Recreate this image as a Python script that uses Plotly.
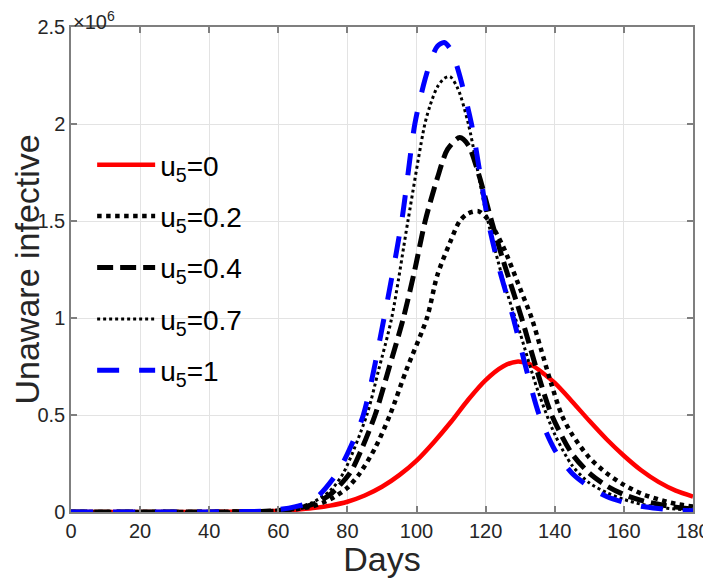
import plotly.graph_objects as go

# ---- data (values in units of 10^6) ----
labels = ["u<sub>5</sub>=0", "u<sub>5</sub>=0.2", "u<sub>5</sub>=0.4", "u<sub>5</sub>=0.7", "u<sub>5</sub>=1"]

days_u0 = [0, 10, 20, 30, 40, 45, 50, 55, 60, 65, 70, 75, 80, 85, 90, 95, 100, 105, 110, 115, 120, 125, 129, 133, 137, 140, 145, 150, 155, 160, 165, 170, 175, 180]
vals_u0 = [0, 0, 0, 0, 0.0005, 0.001, 0.002, 0.004, 0.007, 0.012, 0.02, 0.033, 0.053, 0.085, 0.13, 0.19, 0.265, 0.36, 0.465, 0.58, 0.68, 0.75, 0.775, 0.76, 0.71, 0.665, 0.57, 0.47, 0.375, 0.29, 0.215, 0.155, 0.11, 0.08]

days_u02 = [0, 10, 20, 30, 40, 50, 55, 60, 65, 70, 75, 80, 83.6, 88, 92.3, 97, 103, 106, 109.7, 112.5, 115, 118, 121, 125, 130, 133.3, 136, 139, 142, 145, 150, 155, 160, 165, 170, 175, 180]
vals_u02 = [0, 0, 0, 0, 0.0005, 0.001, 0.002, 0.006, 0.014, 0.03, 0.065, 0.125, 0.2, 0.33, 0.5, 0.73, 1.0, 1.22, 1.39, 1.5, 1.54, 1.55, 1.5, 1.37, 1.15, 1.0, 0.84, 0.66, 0.5, 0.4, 0.28, 0.2, 0.14, 0.095, 0.065, 0.042, 0.028]

days_u04 = [0, 10, 20, 30, 40, 50, 55, 60, 65, 70, 75, 80.7, 84, 88, 92, 96.2, 99.5, 102.5, 106, 109, 112.5, 115, 118, 121.7, 125, 130.4, 135, 139.1, 145, 150, 155, 160, 165, 170, 175, 180]
vals_u04 = [0, 0, 0, 0, 0.0005, 0.001, 0.003, 0.008, 0.018, 0.04, 0.09, 0.2, 0.32, 0.5, 0.74, 1.0, 1.25, 1.5, 1.72, 1.87, 1.93, 1.89, 1.74, 1.5, 1.3, 1.0, 0.72, 0.5, 0.3, 0.2, 0.135, 0.09, 0.06, 0.04, 0.025, 0.015]

days_u07 = [0, 10, 20, 30, 40, 50, 55, 60, 65, 70, 75, 78.8, 85.6, 89, 92.8, 97.5, 102.4, 104, 106, 108, 109.7, 112, 115, 120, 125, 130, 135, 140, 145, 150, 155, 160, 165, 170, 175, 180]
vals_u07 = [0, 0, 0, 0, 0.0005, 0.002, 0.004, 0.01, 0.022, 0.05, 0.11, 0.2, 0.5, 0.73, 1.0, 1.5, 2.0, 2.1, 2.19, 2.235, 2.244, 2.18, 2.0, 1.55, 1.2, 0.92, 0.63, 0.4, 0.24, 0.15, 0.1, 0.065, 0.04, 0.025, 0.015, 0.01]

days_u1 = [0, 10, 20, 30, 40, 50, 55, 60, 65, 68.7, 72, 77, 80, 84.6, 90.6, 95.7, 99.5, 102, 104, 106, 108, 110, 112, 115.9, 120.7, 124, 128, 132, 135.5, 140, 145, 150, 155, 160, 165, 170, 175, 180]
vals_u1 = [0, 0, 0, 0, 0.0005, 0.002, 0.004, 0.012, 0.028, 0.046, 0.09, 0.2, 0.3, 0.5, 1.0, 1.5, 2.0, 2.2, 2.32, 2.4, 2.42, 2.38, 2.28, 2.0, 1.5, 1.25, 1.0, 0.72, 0.5, 0.32, 0.2, 0.13, 0.08, 0.05, 0.03, 0.018, 0.01, 0.006]

x_ticks = [0, 20, 40, 60, 80, 100, 120, 140, 160, 180]
y_ticks = [0, 0.5, 1, 1.5, 2, 2.5]
y_tick_text = ["0", "0.5", "1", "1.5", "2", "2.5"]

series = [
    (days_u0, vals_u0, dict(color="#ff0000", width=4.5, dash="solid")),
    (days_u02, vals_u02, dict(color="#000000", width=4.5, dash="dot")),
    (days_u04, vals_u04, dict(color="#000000", width=5, dash="16px,7px")),
    (days_u07, vals_u07, dict(color="#000000", width=3, dash="dot")),
    (days_u1, vals_u1, dict(color="#0000ff", width=5, dash="22px,20px")),
]

fig = go.Figure()
for (d, v, ln), name in zip(series, labels):
    fig.add_trace(go.Scatter(x=d, y=v, mode="lines", name=name, line=dict(shape="spline", smoothing=0.8, **ln),
                             legendgroup=name))

FONT = "Arial, Liberation Sans, sans-serif"
axis_common = dict(showline=True, linecolor="#7f7f7f", linewidth=1.5, mirror="ticks", ticks="inside",
                   ticklen=6, tickcolor="#7f7f7f", tickwidth=1.5, showgrid=True, gridcolor="#e3e3e3",
                   gridwidth=1, zeroline=False, automargin=False, ticklabeloverflow="allow",
                   tickfont=dict(family=FONT, size=20, color="#262626"))

fig.update_layout(
    width=695, height=570,
    margin=dict(l=63, r=10, t=19, b=66),
    paper_bgcolor="white", plot_bgcolor="white",
    font=dict(family=FONT, color="#262626"),
    xaxis=dict(range=[0, 180], tickvals=x_ticks,
               title=dict(text="Days", font=dict(family=FONT, size=34, color="#262626"), standoff=3), **axis_common),
    yaxis=dict(range=[0, 2.5], tickvals=y_ticks, ticktext=y_tick_text, **axis_common),
    legend=dict(x=0.034, y=0.767, xanchor="left", yanchor="top", bgcolor="rgba(0,0,0,0)",
                font=dict(family=FONT, size=28, color="#000000"), tracegroupgap=12, itemwidth=58),
    showlegend=True,
)

# y-axis title
fig.add_annotation(text="Unaware infective", xref="paper", yref="paper", x=-0.0723, y=0.5,
                   xanchor="center", yanchor="middle", textangle=-90, showarrow=False,
                   font=dict(family=FONT, size=34, color="#262626"))
# exponent label
fig.add_annotation(text="\u00d710<sup>6</sup>", xref="paper", yref="paper", x=0.0, y=1.0, xanchor="left", yanchor="bottom",
                   showarrow=False, font=dict(family=FONT, size=20, color="#262626"), yshift=-8)

fig.write_html("out.html")
